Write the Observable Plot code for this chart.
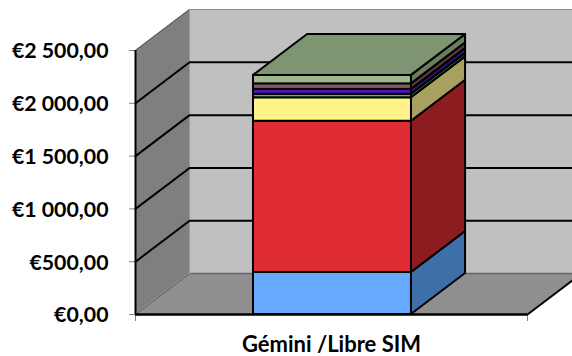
<!DOCTYPE html>
<html>
<head>
<meta charset="utf-8">
<script src="https://cdn.jsdelivr.net/npm/d3@7"></script>
<script src="https://cdn.jsdelivr.net/npm/@observablehq/plot@0.6"></script>
<style>
html,body{margin:0;padding:0;background:#fff;}
svg{display:block;}
</style>
</head>
<body>
<div id="chart"></div>
<script>
const category = "Gémini /Libre SIM";
const tickValues = [0, 500, 1000, 1500, 2000, 2500];
const tickLabels = ["€0,00", "€500,00", "€1 000,00", "€1 500,00", "€2 000,00", "€2 500,00"];
const seriesValues = [398, 1432, 222, 33, 47, 52, 80];
const frontColors = ["#66aaff", "#e02d35", "#fff38a", "#44cc44", "#5511bb", "#8a5a5e", "#9db88a"];
const sideColors = ["#3f6fa8", "#8c1c20", "#a8a060", "#2c862c", "#380c7a", "#5a3c3e", "#6a7d5c"];
const topColor = "#7f9470";

// oblique-projection constants, in data units
const depthX = 0.138, depthY = 388;
const barLeft = 0.301, barRight = 0.704;
const yMax = 2500;

let acc = 0;
const stack = seriesValues.map((v, i) => {
  const s = {i, y0: acc, y1: acc + v, front: frontColors[i], side: sideColors[i]};
  acc += v;
  return s;
});
const total = acc;

const sideRows = stack.flatMap(s => [0, 1].map(t => ({
  i: s.i, x: barRight + t * depthX, y1: s.y0 + t * depthY, y2: s.y1 + t * depthY, fill: s.side
})));
const topRows = [0, 1].map(t => ({
  y: total + t * depthY, x1: barLeft + t * depthX, x2: barRight + t * depthX
}));
const gridRows = tickValues.slice(1, -1).flatMap(v => [
  {v, x: 0, y: v},
  {v, x: depthX, y: v + depthY},
  {v, x: 1.3, y: v + depthY}
]);
const wallRows = [0, 1].map(t => ({x: t * depthX, y1: t * depthY, y2: yMax + t * depthY}));
const floorRows = [0, 1].map(t => ({y: t * depthY, x1: t * depthX, x2: 1 + t * depthX}));

const chart = Plot.plot({
  width: 572, height: 356,
  marginLeft: 135, marginRight: 45, marginTop: 50, marginBottom: 42,
  style: {background: "#fff", fontFamily: "Lato", fontWeight: "bold", color: "#000", overflow: "hidden"},
  x: {domain: [0, 1], axis: null},
  y: {domain: [0, yMax], axis: null},
  marks: [
    // back wall
    Plot.rect([{}], {x1: depthX, x2: 1.3, y1: depthY, y2: yMax + depthY, fill: "#c0c0c0"}),
    Plot.ruleY([yMax + depthY], {x1: depthX, x2: 1.3, stroke: "#8c8c8c", strokeWidth: 1}),
    // side wall
    Plot.areaY(wallRows, {x: "x", y1: "y1", y2: "y2", fill: "#7f7f7f"}),
    // floor
    Plot.areaX(floorRows, {y: "y", x1: "x1", x2: "x2", fill: "#8f8f8f"}),
    Plot.ruleY([depthY], {x1: depthX, x2: 1.3, stroke: "#666", strokeWidth: 1.5}),
    Plot.line([{x: 0, y: 0}, {x: depthX, y: depthY}], {x: "x", y: "y", stroke: "#555", strokeWidth: 1}),
    Plot.line([{x: 0, y: yMax}, {x: depthX, y: yMax + depthY}], {x: "x", y: "y", stroke: "#555", strokeWidth: 1}),
    Plot.line([{x: depthX, y: depthY}, {x: depthX, y: yMax + depthY}], {x: "x", y: "y", stroke: "#999", strokeWidth: 1}),
    // grid
    Plot.line(gridRows, {x: "x", y: "y", z: "v", stroke: "#000", strokeWidth: 2}),
    // axes
    Plot.axisY({ticks: tickValues, tickFormat: () => "", tickSize: 6, stroke: "#808080", label: null}),
    Plot.axisY({ticks: tickValues, tickFormat: d => tickLabels[tickValues.indexOf(d)], tickSize: 0, tickPadding: 27, dy: 1, stroke: "none", fill: "#000", fontSize: 21.3, label: null}),
    Plot.axisX({ticks: [0, 1], tickFormat: () => "", tickSize: 7, stroke: "#808080", label: null}),
    Plot.axisX({ticks: [0.5], tickFormat: () => category, tickSize: 0, tickPadding: 21, dy: 1, fontSize: 22, stroke: "none", fill: "#000", label: null}),
    // frame edges
    Plot.ruleX([0], {y1: 0, y2: yMax, stroke: "#000", strokeWidth: 2}),
    Plot.line([{x: 1, y: 0}, {x: 1 + depthX, y: depthY}], {x: "x", y: "y", stroke: "#000", strokeWidth: 2}),
    Plot.ruleY([0], {x1: 0, x2: 1, stroke: "#000", strokeWidth: 2.5}),
    // bar
    Plot.areaY(sideRows, {x: "x", y1: "y1", y2: "y2", z: "i", fill: "fill", stroke: "#000", strokeWidth: 2, strokeLinejoin: "round"}),
    Plot.rect(stack, {x1: barLeft, x2: barRight, y1: "y0", y2: "y1", fill: "front", stroke: "#000", strokeWidth: 2}),
    Plot.areaX(topRows, {y: "y", x1: "x1", x2: "x2", fill: topColor, stroke: "#000", strokeWidth: 2, strokeLinejoin: "round"})
  ]
});
document.getElementById("chart").append(chart);
</script>
</body>
</html>
